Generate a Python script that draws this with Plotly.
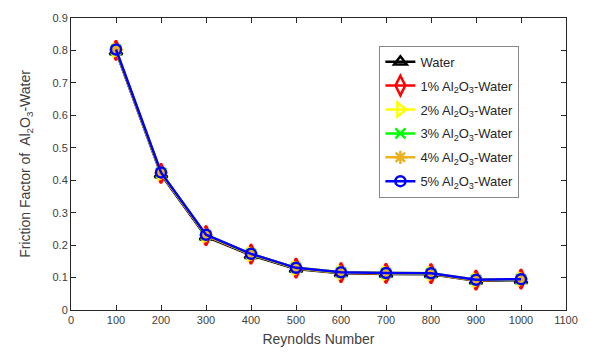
import plotly.graph_objects as go

reynolds = [100, 200, 300, 400, 500, 600, 700, 800, 900, 1000]
water = [0.797, 0.418, 0.226, 0.169, 0.126, 0.113, 0.111, 0.110, 0.090, 0.092]
al1 = [0.800, 0.421, 0.229, 0.172, 0.129, 0.115, 0.113, 0.112, 0.092, 0.095]
al2 = [0.801, 0.422, 0.230, 0.172, 0.129, 0.115, 0.113, 0.112, 0.092, 0.095]
al3 = [0.802, 0.423, 0.231, 0.173, 0.130, 0.116, 0.114, 0.113, 0.093, 0.095]
al4 = [0.802, 0.423, 0.231, 0.173, 0.130, 0.116, 0.114, 0.113, 0.093, 0.095]
al5 = [0.803, 0.424, 0.232, 0.173, 0.130, 0.116, 0.114, 0.113, 0.093, 0.095]

series = [
    ("Water", water, "black", "triangle-up-open", 11),
    ("1% Al<sub>2</sub>O<sub>3</sub>-Water", al1, "red", "diamond-tall-open", 14),
    ("2% Al<sub>2</sub>O<sub>3</sub>-Water", al2, "yellow", "triangle-right-open", 12),
    ("3% Al<sub>2</sub>O<sub>3</sub>-Water", al3, "#00ff00", "x-thin-open", 10),
    ("4% Al<sub>2</sub>O<sub>3</sub>-Water", al4, "#edb120", "asterisk-open", 11),
    ("5% Al<sub>2</sub>O<sub>3</sub>-Water", al5, "blue", "circle-open", 10),
]

fig = go.Figure()
for i, (name, vals, color, sym, size) in enumerate(series):
    fig.add_trace(go.Scatter(
        x=reynolds, y=vals, name=name, mode="lines+markers", legendgroup=f"g{i}",
        line=dict(color=color, width=2.5),
        marker=dict(symbol=sym, size=size, color=color, line=dict(color=color, width=2.5)),
    ))

axis_common = dict(
    showline=True, linecolor="#262626", linewidth=1, mirror="ticks",
    ticks="inside", ticklen=5, tickcolor="#262626", showgrid=False, zeroline=False,
    tickfont=dict(family="Liberation Sans, Arial", size=11, color="#404040"),
)

fig.update_layout(
    width=590, height=356,
    margin=dict(l=71, r=18, t=15, b=45),
    paper_bgcolor="white", plot_bgcolor="white",
    font=dict(family="Liberation Sans, Arial", size=11, color="#262626"),
    xaxis=dict(range=[0, 1100], tickvals=list(range(0, 1101, 100)),
               title=dict(text="Reynolds Number", font=dict(size=14, color="#404040"), standoff=8),
               **axis_common),
    yaxis=dict(range=[0, 0.9], tickvals=[0, 0.1, 0.2, 0.3, 0.4, 0.5, 0.6, 0.7, 0.8, 0.9],
               ticktext=["0", "0.1", "0.2", "0.3", "0.4", "0.5", "0.6", "0.7", "0.8", "0.9"],
               title=dict(text="Friction Factor of  Al<sub>2</sub>O<sub>3</sub>-Water", font=dict(size=14, color="#404040"), standoff=18),
               **axis_common),
    legend=dict(x=0.623, y=0.905, xanchor="left", yanchor="top",
                bgcolor="white", bordercolor="#888888", borderwidth=1,
                font=dict(size=13, color="#262626"), tracegroupgap=4,
                itemwidth=30),
    showlegend=True,
)

fig.write_html("out.html")
